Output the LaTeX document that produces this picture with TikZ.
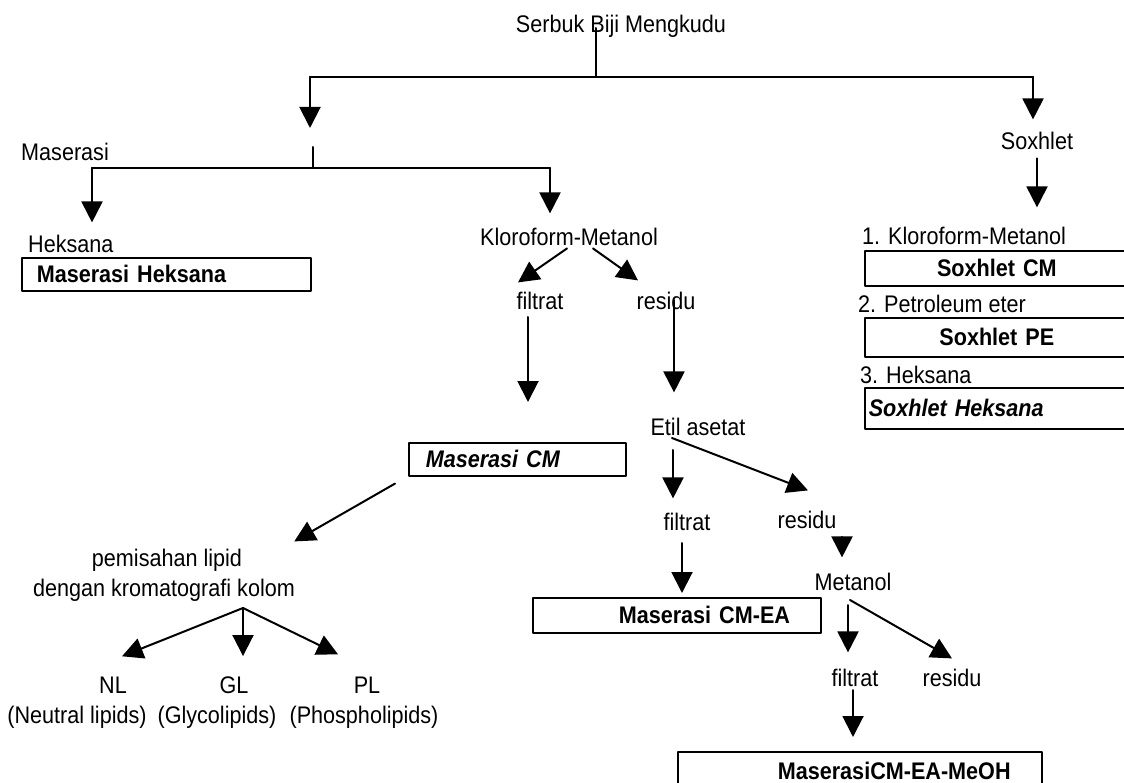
\documentclass[tikz,border=0pt]{standalone}
\usepackage{fontspec}
\setmainfont{Liberation Sans}[FakeStretch=0.9]
\usetikzlibrary{arrows.meta}
\begin{document}
\begin{tikzpicture}[x=1pt,y=-1pt,font=\fontsize{24}{30}\selectfont,line join=round,line cap=round,>={Triangle[length=21pt,width=21pt]}]
	\tikzset{lb/.style={inner sep=0pt,anchor=base},
	lbw/.style={inner sep=0pt,anchor=base west},
	kotak/.style={draw,line width=1.6pt,inner sep=0pt,anchor=north west,align=left,font=\fontsize{24}{30}\selectfont\bfseries},
	ln/.style={line width=2pt},
	ar/.style={line width=2pt,->}}
	\useasboundingbox(0,0)rectangle(1124,783);
	% teks
	\node[lb](serbuk)at(621,33){Serbuk Biji Mengkudu};
	\node[lbw](maserasi)at(21,161){Maserasi};
	\node[lb](soxhlet)at(1037,150){Soxhlet};
	\node[lbw](heksana)at(28,253){Heksana};
	\node[lb](klorometa)at(569,246){Kloroform-Metanol};
	\node[kotak,text width=289pt,minimum height=33pt](mhbox)at(21,257){\hspace*{15pt}Maserasi Heksana};
	\node[lbw](sox1)at(862,245){1. Kloroform-Metanol};
	\node[kotak,text width=264pt,minimum height=35pt,align=center](soxcm)at(864,250){Soxhlet CM};
	\node[lbw](sox2)at(858,313){2. Petroleum eter};
	\node[kotak,text width=264pt,minimum height=39pt,align=center](soxpe)at(864,317){Soxhlet PE};
	\node[lbw](sox3)at(860,384){3. Heksana};
	\node[kotak,text width=264pt,minimum height=41pt](soxhk)at(864,387){\hspace*{4pt}\itshape Soxhlet Heksana};
	\node[lb](filtrat1)at(540,310){filtrat};
	\node[lb](residu1)at(666,310){residu};
	\node[kotak,text width=217pt,minimum height=33pt](cmbox)at(408,442){\hspace*{17pt}\itshape Maserasi CM};
	\node[lb](etil)at(698,435){Etil asetat};
	\node[lb](filtrat2)at(687,530){filtrat};
	\node[lb](residu2)at(807,528){residu};
	\node[kotak,text width=288pt,minimum height=35pt](cmeabox)at(532,597){\hspace*{86pt}Maserasi CM-EA};
	\node[lb](metanol)at(853,590){Metanol};
	\node[lb](filtrat3)at(855,686){filtrat};
	\node[lb](residu3)at(952,686){residu};
	\node[kotak,text width=364pt,minimum height=38pt](meohbox)at(677,751){\hspace*{100pt}MaserasiCM-EA-MeOH};
	\node[lb](pemisahan1)at(167,566){pemisahan lipid};
	\node[lb](pemisahan2)at(164,596){dengan kromatografi kolom};
	\node[lb](nl)at(113,693){NL};
	\node[lb](neutral)at(77,723){(Neutral lipids)};
	\node[lb](gl)at(234,693){GL};
	\node[lb](glyco)at(217,723){(Glycolipids)};
	\node[lb](pl)at(367,693){PL};
	\node[lb](phospho)at(364,723){(Phospholipids)};
	% cabang
	\coordinate(j0)at(596,77);
	\coordinate(jl)at(310,77);
	\coordinate(jr)at(1033,77);
	\coordinate(tl)at(310,128);
	\coordinate(k0)at(313,147);
	\coordinate(k1)at(313,168);
	\coordinate(jl2)at(92,168);
	\coordinate(jr2)at(550,168);
	\coordinate(fork)at([shift={(79pt,-12pt)}]pemisahan2.base);
	\draw[ln]([shift={(-25pt,5pt)}]serbuk.base)--(j0)(jl)--(jr)(k0)--(k1)(jl2)--(jr2);
	\draw[ar](jl)--(tl);
	\draw[ar,shorten >=13pt](jr)--(jr|-soxhlet.north);
	\draw[ar,shorten <=8pt,shorten >=20pt](soxhlet.south)--(soxhlet.south|-sox1.north);
	\draw[ar,shorten >=13pt](jl2)--(jl2|-heksana.north);
	\draw[ar,shorten >=15pt](jr2)--(jr2|-klorometa.north);
	\draw[ar]([shift={(-2pt,-2pt)}]klorometa.south)--([shift={(-22pt,10pt)}]filtrat1.north);
	\draw[ar]([shift={(24pt,-2pt)}]klorometa.south)--([shift={(-28pt,12pt)}]residu1.north);
	\draw[ar,shorten >=40pt]([shift={(-12pt,-7pt)}]filtrat1.base)--([xshift=-12pt]filtrat1.base|-cmbox.north);
	\draw[ar,shorten >=25pt]([shift={(8pt,10pt)}]residu1.base)--([xshift=8pt]residu1.base|-etil.north);
	\draw[ar]([shift={(-13pt,-7pt)}]cmbox.south west)--([shift={(52pt,7pt)}]pemisahan1.north east);
	\draw[ar](fork)--([shift={(9pt,20pt)}]nl.north);
	\draw[ar](fork)--([shift={(9pt,20pt)}]gl.north);
	\draw[ar](fork)--([shift={(-29pt,22pt)}]pl.north);
	\draw[ar,shorten >=14pt]([shift={(-25pt,-15pt)}]etil.base)--([xshift=-25pt]etil.base|-filtrat2.north);
	\draw[ar]([shift={(-26pt,-3pt)}]etil.base)--([shift={(1pt,20pt)}]residu2.north);
	\draw[ar,shorten >=4pt]([shift={(-5pt,-13pt)}]filtrat2.base)--([xshift=-5pt]filtrat2.base|-cmeabox.north);
	\draw[ar,shorten >=15pt]([shift={(35pt,-9pt)}]residu2.base)--([xshift=35pt]residu2.base|-metanol.north);
	\draw[ar,shorten >=16pt]([shift={(-5pt,-15pt)}]metanol.base)--([xshift=-5pt]metanol.base|-filtrat3.north);
	\draw[ar]([shift={(-3pt,-10pt)}]metanol.base)--([yshift=10pt]residu3.north);
	\draw[ar,shorten >=14pt]([shift={(-2pt,-4pt)}]filtrat3.base)--([xshift=-2pt]filtrat3.base|-meohbox.north);
\end{tikzpicture}
\end{document}
